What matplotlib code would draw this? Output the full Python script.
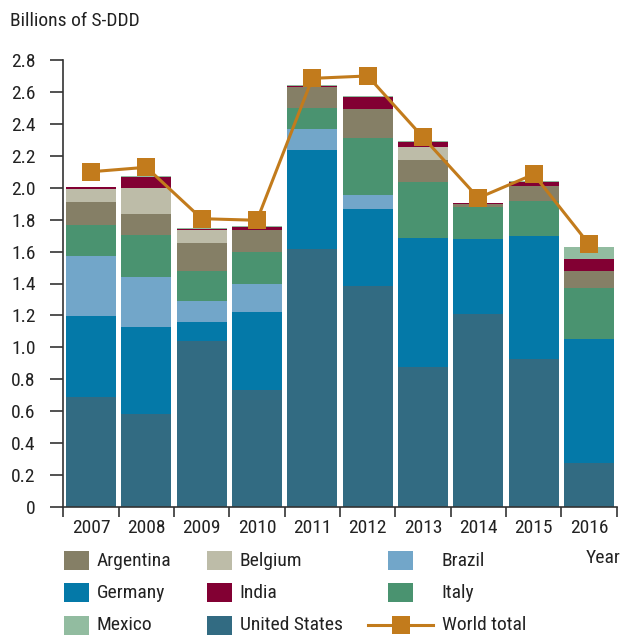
import matplotlib
matplotlib.use("Agg")
import matplotlib.pyplot as plt
from matplotlib.patches import Rectangle
from matplotlib.lines import Line2D
import numpy as np

plt.rcParams['font.family'] = ['Roboto Condensed', 'DejaVu Sans']

years = ['2007', '2008', '2009', '2010', '2011', '2012', '2013', '2014', '2015', '2016']

united_states = [0.687, 0.585, 1.038, 0.735, 1.614, 1.384, 0.875, 1.209, 0.927, 0.273]
germany       = [0.509, 0.543, 0.121, 0.486, 0.622, 0.483, 0.810, 0.470, 0.773, 0.777]
brazil        = [0.376, 0.313, 0.131, 0.176, 0.132, 0.087, 0.000, 0.000, 0.000, 0.000]
italy         = [0.194, 0.263, 0.188, 0.200, 0.131, 0.359, 0.351, 0.202, 0.217, 0.324]
argentina     = [0.145, 0.132, 0.176, 0.138, 0.132, 0.180, 0.138, 0.017, 0.096, 0.104]
belgium       = [0.081, 0.164, 0.083, 0.000, 0.000, 0.000, 0.083, 0.000, 0.000, 0.000]
india         = [0.010, 0.069, 0.005, 0.019, 0.006, 0.075, 0.029, 0.004, 0.023, 0.075]
mexico        = [0.004, 0.004, 0.004, 0.004, 0.004, 0.004, 0.004, 0.004, 0.004, 0.076]
world_total   = [2.100, 2.128, 1.806, 1.796, 2.685, 2.700, 2.316, 1.936, 2.084, 1.646]

yticks = [0, 0.2, 0.4, 0.6, 0.8, 1.0, 1.2, 1.4, 1.6, 1.8, 2.0, 2.2, 2.4, 2.6, 2.8]
ytick_labels = ['0', '0.2', '0.4', '0.6', '0.8', '1.0', '1.2', '1.4', '1.6', '1.8',
                '2.0', '2.2', '2.4', '2.6', '2.8']

stack = [
    ('United States', united_states, '#326B82'),
    ('Germany', germany, '#0479A8'),
    ('Brazil', brazil, '#72A6C9'),
    ('Italy', italy, '#4A9370'),
    ('Argentina', argentina, '#857F66'),
    ('Belgium', belgium, '#BDBCA8'),
    ('India', india, '#820033'),
    ('Mexico', mexico, '#92BCA0'),
]
colors = {name: c for name, _, c in stack}
line_color = '#C27B1C'
text_color = '#222222'
FS = 14

W, H = 625, 637
fig = plt.figure(figsize=(W / 100, H / 100), dpi=100)
ax = fig.add_axes([63.3 / W, (H - 507) / H, 553.4 / W, 447 / H])

x = np.arange(len(years))
bottom = np.zeros(len(years))
for name, vals, c in stack:
    v = np.array(vals)
    ax.bar(x, v, bottom=bottom, width=0.904, color=c, linewidth=0, zorder=2)
    bottom += v

ax.plot(x, world_total, color=line_color, linewidth=2.2, marker='s', markersize=12.5,
        markeredgewidth=0, zorder=3)

ax.set_xlim(-0.5, len(years) - 0.5)
ax.set_ylim(0, 2.8)
ax.set_yticks(yticks)
ax.set_yticklabels(ytick_labels)
ax.set_xticks(x)
ax.set_xticklabels(years)
ax.set_xticks(np.arange(len(years) + 1) - 0.5, minor=True)

for s in ['top', 'right']:
    ax.spines[s].set_visible(False)
for s in ['left', 'bottom']:
    ax.spines[s].set_color('#333333')
    ax.spines[s].set_linewidth(1.2)

ax.tick_params(axis='y', direction='out', length=9.5, width=1.2, color='#333333',
               pad=10.5, labelsize=FS, labelcolor=text_color)
ax.tick_params(axis='x', which='major', length=0, pad=8.5, labelsize=FS, labelcolor=text_color)
ax.tick_params(axis='x', which='minor', direction='out', length=7.5, width=1.2, color='#333333')

fig.text(10 / W, 1 - 21 / H, 'Billions of S-DDD', fontsize=FS, color=text_color,
         ha='left', va='center')
fig.text(603 / W, 1 - 558 / H, 'Year', fontsize=FS, color=text_color, ha='center', va='center')

# Legend (manual layout)
legend_items = ['Argentina', 'Belgium', 'Brazil', 'Germany', 'India', 'Italy',
                'Mexico', 'United States', 'World total']
col_patch_x = [63.5, 206.7, 388]
col_text_x = [97, 239.5, 441.5]
row_y = [560.7, 592.5, 625]
pw, ph = 25.5, 19
for i, name in enumerate(legend_items):
    r, cidx = divmod(i, 3)
    yc = row_y[r]
    if name == 'World total':
        fig.add_artist(Line2D([368 / W, 433 / W], [1 - yc / H, 1 - yc / H],
                              color=line_color, linewidth=2.2))
        fig.add_artist(Line2D([400.5 / W], [1 - yc / H], color=line_color, marker='s',
                              markersize=12.5, markeredgewidth=0, linestyle='none'))
    else:
        fig.add_artist(Rectangle((col_patch_x[cidx] / W, 1 - (yc + ph / 2) / H),
                                 pw / W, ph / H, transform=fig.transFigure,
                                 facecolor=colors[name], linewidth=0))
    fig.text(col_text_x[cidx] / W, 1 - yc / H, name, fontsize=FS, color=text_color,
             ha='left', va='center')

fig.savefig('out.png', dpi=100)
